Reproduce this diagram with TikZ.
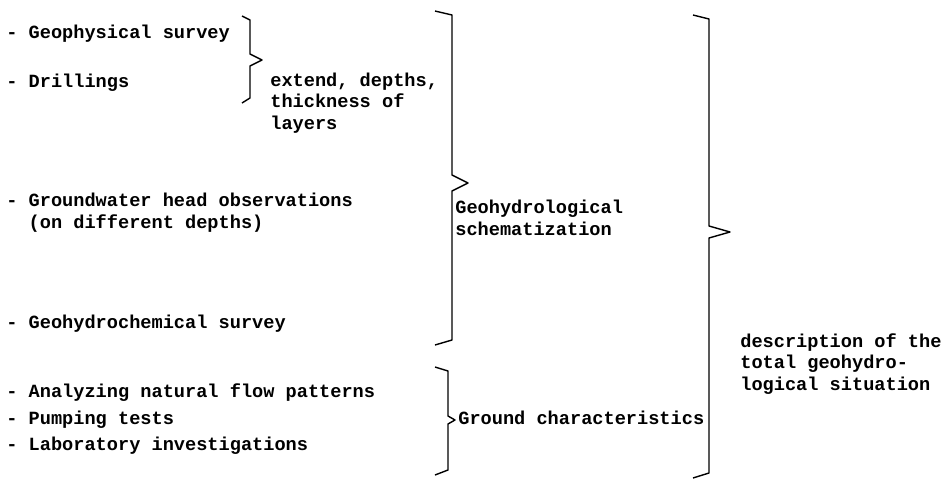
\documentclass[tikz,border=0pt]{standalone}
\usepackage{fontspec}
\setmonofont{Liberation Mono}
\definecolor{inkblack}{RGB}{0,0,0}

\begin{document}
\begin{tikzpicture}[x=0.02cm,y=-0.02cm] %Coordinates in pixels of the original sheet, y runs downwards
\useasboundingbox (0,0) rectangle (948,478); %Fixes the size of the sheet
\tikzset{
  entry/.style={font=\ttfamily\bfseries\fontsize{10.6}{12}\selectfont,anchor=base west,inner sep=0pt,align=left,text=inkblack},
  brace/.style={draw=inkblack,line width=0.8pt,line join=round}
}
%Template for a typed curly bracket: x, top, tip, bottom, tip length, hook length, half height of the tip
\def\curly#1#2#3#4#5#6#7{\draw[brace] ({#1-#6},{#2-4})--(#1,#2)--(#1,{#3-#7})--({#1+#5},#3)--(#1,{#3+#7})--(#1,#4)--({#1-#6},{#4+5});}

%Investigations on the left (multi-line nodes sit on the baseline of their last line)
\node[entry] (geo) at (6,38) {- Geophysical survey};
\node[entry] (drill) at (6,87) {- Drillings};
\node[entry] (gw) at (6,228) {- Groundwater head observations\\\phantom{- }(on different depths)};
\node[entry] (chem) at (6,328) {- Geohydrochemical survey};
\node[entry] (flow) at (6,397) {- Analyzing natural flow patterns};
\node[entry] (pump) at (6,424) {- Pumping tests};
\node[entry] (lab) at (6,450) {- Laboratory investigations};

%Results
\node[entry] (ext) at (270,129) {extend, depths,\\thickness of\\layers};
\node[entry] (schem) at (455,235) {Geohydrological\\schematization};
\node[entry] (ground) at (458,424) {Ground characteristics};
\node[entry] (total) at (740,390) {description of the\\total geohydro-\\logical situation};

%Brackets
\curly{250}{20}{60}{98}{12}{8}{6} %Survey and drillings
\curly{452}{15}{183}{340}{16}{17}{8} %Geohydrological schematization
\curly{448}{371}{420}{470}{7}{13}{4} %Ground characteristics
\curly{709}{19}{232}{473}{21}{16}{6} %Total situation
\end{tikzpicture}
\end{document}
